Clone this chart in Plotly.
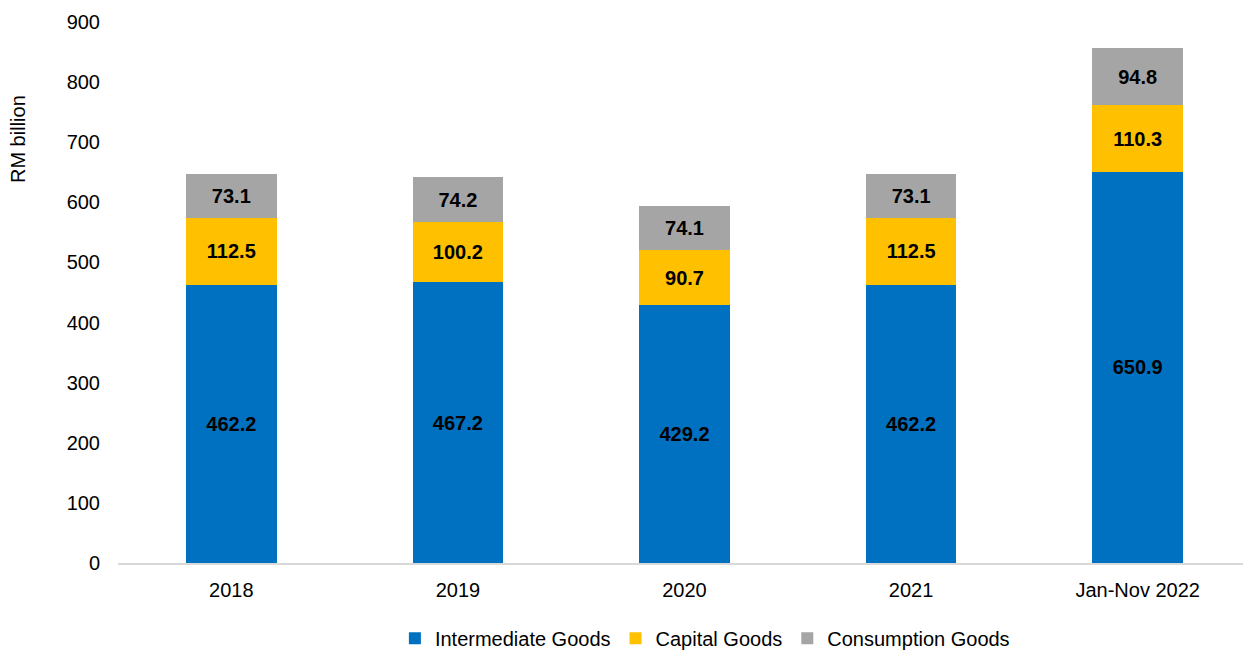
import plotly.graph_objects as go

categories = ["2018", "2019", "2020", "2021", "Jan-Nov 2022"]
intermediate = [462.2, 467.2, 429.2, 462.2, 650.9]
capital = [112.5, 100.2, 90.7, 112.5, 110.3]
consumption = [73.1, 74.2, 74.1, 73.1, 94.8]

series = [
    ("Intermediate Goods", intermediate, "#0070C0"),
    ("Capital Goods", capital, "#FFC000"),
    ("Consumption Goods", consumption, "#A5A5A5"),
]

FONT = "Liberation Sans, Arial, sans-serif"

fig = go.Figure()
for name, vals, color in series:
    fig.add_trace(go.Bar(
        x=categories, y=vals, name=name,
        marker=dict(color=color, line=dict(width=0)),
        texttemplate="<b>%{y:.1f}</b>",
        textposition="inside", insidetextanchor="middle",
        textfont=dict(family=FONT, size=20, color="#000000"),
        textangle=0,
    ))

fig.update_layout(
    barmode="stack",
    bargap=0.6,
    width=1243, height=643,
    margin=dict(l=110, r=0, t=14, b=88, autoexpand=False),
    plot_bgcolor="white", paper_bgcolor="white",
    font=dict(family=FONT, size=20, color="#000000"),
    legend=dict(orientation="h", x=0.518, xanchor="center", y=-0.139, yanchor="middle",
                font=dict(size=20), traceorder="normal", itemwidth=30),
    showlegend=True,
    annotations=[dict(text="RM billion", xref="paper", yref="paper",
                      x=-0.0881, y=0.784, xanchor="center", yanchor="middle",
                      textangle=-90, showarrow=False, font=dict(size=20))],
)
fig.update_xaxes(showline=True, linecolor="#D9D9D9", linewidth=2, ticks="",
                 showgrid=False, tickfont=dict(size=20), automargin=False,
                 ticklabelstandoff=8)
fig.update_yaxes(range=[0, 900], dtick=100, showgrid=False, zeroline=False,
                 showline=False, ticks="", ticklabelstandoff=17,
                 tickfont=dict(size=20), automargin=False)

fig.write_html("out.html")
